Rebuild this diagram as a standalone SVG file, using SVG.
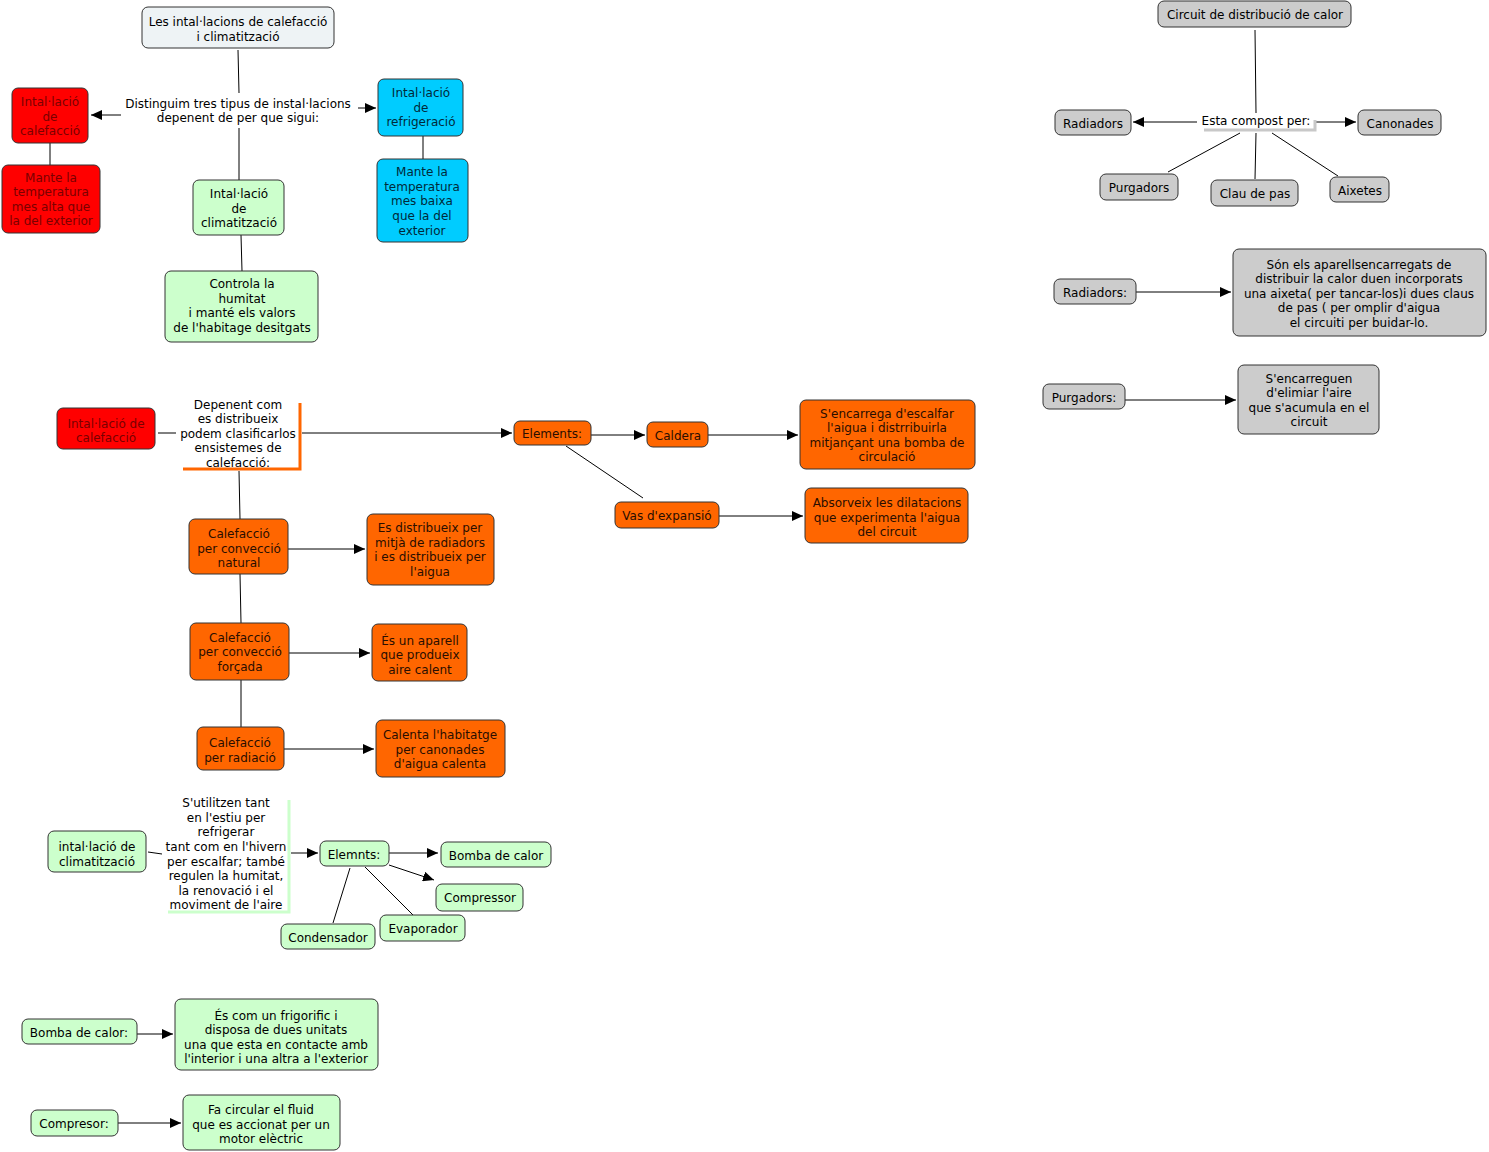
<svg xmlns="http://www.w3.org/2000/svg" width="1489" height="1152" viewBox="0 0 1489 1152">
<defs>
<marker id="ah" markerUnits="userSpaceOnUse" markerWidth="12" markerHeight="10" refX="11" refY="5" orient="auto">
<path d="M0,0 L11,5 L0,10 Z" fill="#000"/>
</marker>
<style>
text{font-family:"DejaVu Sans",Verdana,sans-serif;font-size:12px;text-anchor:middle;fill:#000;transform:translate(0px,1px)}
rect{stroke:#333;stroke-width:1;rx:6;ry:6}
.w{fill:#eef3f5}
.r{fill:#ff0000}
.rt{fill:#7a0000}
.b{fill:#00ccff}
.bt{fill:#002a3a}
.g{fill:#ccffcc}
.gr{fill:#cccccc}
.o{fill:#ff6600}
.ot{fill:#2a0e00}
.c line,.c path{stroke:#000;stroke-width:1;fill:none}
.a{marker-end:url(#ah)}
</style>
</defs>
<rect x="0" y="0" width="1489" height="1152" style="fill:#fff;stroke:none"/>

<g class="c" id="connectors">
<line x1="238" y1="50" x2="239" y2="93"/>
<line class="a" x1="121" y1="115" x2="91" y2="115"/>
<line class="a" x1="358" y1="108" x2="376" y2="108"/>
<line x1="239" y1="128" x2="239" y2="180"/>
<line x1="50" y1="143" x2="50" y2="165"/>
<line x1="423" y1="136" x2="423" y2="159"/>
<line x1="241" y1="235" x2="242" y2="271"/>

<line x1="1255" y1="30" x2="1256" y2="113"/>
<line class="a" x1="1197" y1="122" x2="1133" y2="122"/>
<line class="a" x1="1316" y1="122" x2="1356" y2="122"/>
<line x1="1240" y1="133" x2="1168" y2="172"/>
<line x1="1256" y1="133" x2="1255" y2="179"/>
<line x1="1272" y1="133" x2="1338" y2="176"/>
<line class="a" x1="1136" y1="292" x2="1231" y2="292"/>
<line class="a" x1="1125" y1="400" x2="1236" y2="400"/>

<line x1="158" y1="433" x2="176" y2="433"/>
<line class="a" x1="302" y1="433" x2="512" y2="433"/>
<line x1="239" y1="471" x2="240" y2="519"/>
<line class="a" x1="591" y1="435" x2="645" y2="435"/>
<line x1="566" y1="446" x2="643" y2="498"/>
<line class="a" x1="708" y1="435" x2="798" y2="435"/>
<line class="a" x1="719" y1="516" x2="803" y2="516"/>
<line class="a" x1="288" y1="549" x2="365" y2="549"/>
<line x1="240" y1="574" x2="241" y2="623"/>
<line class="a" x1="289" y1="653" x2="370" y2="653"/>
<line x1="241" y1="680" x2="241" y2="727"/>
<line class="a" x1="284" y1="749" x2="374" y2="749"/>

<line x1="148" y1="852" x2="162" y2="854"/>
<line class="a" x1="291" y1="853" x2="318" y2="853"/>
<line class="a" x1="389" y1="853" x2="438" y2="853"/>
<line class="a" x1="389" y1="865" x2="434" y2="880"/>
<line x1="350" y1="868" x2="333" y2="923"/>
<line x1="365" y1="867" x2="413" y2="915"/>
<line class="a" x1="137" y1="1034" x2="173" y2="1034"/>
<line class="a" x1="118" y1="1123" x2="181" y2="1123"/>
</g>

<g id="n-title"><rect class="w" x="142" y="7" width="192" height="41"/>
<text x="238" y="25">Les intal·lacions de calefacció</text><text x="238" y="40">i climatització</text></g>

<g id="n-distinguim"><rect x="122" y="94" width="234" height="33" style="fill:#fff;stroke:none"/>
<text x="238" y="107">Distinguim tres tipus de instal·lacions</text><text x="238" y="121">depenent de per que sigui:</text></g>

<g id="n-calef1"><rect class="r" x="12" y="88" width="76" height="55"/>
<text class="rt" x="50" y="105">Intal·lació</text><text class="rt" x="50" y="120">de</text><text class="rt" x="50" y="134">calefacció</text></g>

<g id="n-calef1d"><rect class="r" x="2" y="165" width="98" height="68"/>
<text class="rt" x="51" y="181">Mante la</text><text class="rt" x="51" y="195">temperatura</text><text class="rt" x="51" y="210">mes alta que</text><text class="rt" x="51" y="224">la del exterior</text></g>

<g id="n-refrig"><rect class="b" x="378" y="79" width="85" height="57"/>
<text class="bt" x="421" y="96">Intal·lació</text><text class="bt" x="421" y="111">de</text><text class="bt" x="421" y="125">refrigeració</text></g>

<g id="n-refrigd"><rect class="b" x="377" y="159" width="91" height="83"/>
<text class="bt" x="422" y="175">Mante la</text><text class="bt" x="422" y="190">temperatura</text><text class="bt" x="422" y="204">mes baixa</text><text class="bt" x="422" y="219">que la del</text><text class="bt" x="422" y="234">exterior</text></g>

<g id="n-clim"><rect class="g" x="193" y="180" width="91" height="55"/>
<text x="239" y="197">Intal·lació</text><text x="239" y="212">de</text><text x="239" y="226">climatització</text></g>

<g id="n-climd"><rect class="g" x="165" y="271" width="153" height="71"/>
<text x="242" y="287">Controla la</text><text x="242" y="302">humitat</text><text x="242" y="316">i manté els valors</text><text x="242" y="331">de l'habitage desitgats</text></g>

<g id="n-circuit"><rect class="gr" x="1158" y="1" width="193" height="26"/>
<text x="1255" y="18">Circuit de distribució de calor</text></g>

<g id="n-compost"><path d="M1204,130 H1315 V120" style="stroke:#c8c8c8;stroke-width:3;fill:none"/>
<rect x="1198" y="113" width="115" height="15" style="fill:#fff;stroke:none"/>
<text x="1256" y="124">Esta compost per:</text></g>

<g id="n-radiadors"><rect class="gr" x="1055" y="110" width="76" height="25"/><text x="1093" y="127">Radiadors</text></g>
<g id="n-canonades"><rect class="gr" x="1358" y="110" width="83" height="25"/><text x="1400" y="127">Canonades</text></g>
<g id="n-purgadors"><rect class="gr" x="1100" y="174" width="78" height="26"/><text x="1139" y="191">Purgadors</text></g>
<g id="n-clau"><rect class="gr" x="1211" y="180" width="87" height="26"/><text x="1255" y="197">Clau de pas</text></g>
<g id="n-aixetes"><rect class="gr" x="1330" y="177" width="59" height="25"/><text x="1360" y="194">Aixetes</text></g>

<g id="n-radiadors2"><rect class="gr" x="1054" y="279" width="82" height="25"/><text x="1095" y="296">Radiadors:</text></g>
<g id="n-radiadorsd"><rect class="gr" x="1233" y="249" width="253" height="87"/>
<text x="1359" y="268">Són els aparellsencarregats de</text><text x="1359" y="282">distribuir la calor duen incorporats</text><text x="1359" y="297">una aixeta( per tancar-los)i dues claus</text><text x="1359" y="311">de pas ( per omplir d'aigua</text><text x="1359" y="326">el circuiti per buidar-lo.</text></g>

<g id="n-purgadors2"><rect class="gr" x="1043" y="384" width="82" height="25"/><text x="1084" y="401">Purgadors:</text></g>
<g id="n-purgadorsd"><rect class="gr" x="1238" y="365" width="141" height="69"/>
<text x="1309" y="382">S'encarreguen</text><text x="1309" y="396">d'elimiar l'aire</text><text x="1309" y="411">que s'acumula en el</text><text x="1309" y="425">circuit</text></g>

<g id="n-calef2"><rect class="r" x="57" y="408" width="98" height="41"/>
<text class="rt" x="106" y="427">Intal·lació de</text><text class="rt" x="106" y="441">calefacció</text></g>

<g id="n-depenent"><path d="M183,469 H300 V403" style="stroke:#ff6600;stroke-width:3;fill:none"/>
<text x="238" y="408">Depenent com</text><text x="238" y="422">es distribueix</text><text x="238" y="437">podem clasificarlos</text><text x="238" y="451">ensistemes de</text><text x="238" y="466">calefacció:</text></g>

<g id="n-elements"><rect class="o" x="514" y="421" width="77" height="24"/><text class="ot" x="552" y="437">Elements:</text></g>
<g id="n-caldera"><rect class="o" x="647" y="422" width="61" height="25"/><text class="ot" x="678" y="439">Caldera</text></g>
<g id="n-calderad"><rect class="o" x="800" y="400" width="175" height="69"/>
<text class="ot" x="887" y="417">S'encarrega d'escalfar</text><text class="ot" x="887" y="431">l'aigua i distrribuirla</text><text class="ot" x="887" y="446">mitjançant una bomba de</text><text class="ot" x="887" y="460">circulació</text></g>
<g id="n-vas"><rect class="o" x="615" y="502" width="104" height="26"/><text class="ot" x="667" y="519">Vas d'expansió</text></g>
<g id="n-vasd"><rect class="o" x="805" y="488" width="163" height="55"/>
<text class="ot" x="887" y="506">Absorveix les dilatacions</text><text class="ot" x="887" y="521">que experimenta l'aigua</text><text class="ot" x="887" y="535">del circuit</text></g>

<g id="n-natural"><rect class="o" x="189" y="519" width="99" height="55"/>
<text class="ot" x="239" y="537">Calefacció</text><text class="ot" x="239" y="552">per convecció</text><text class="ot" x="239" y="566">natural</text></g>
<g id="n-naturald"><rect class="o" x="367" y="514" width="127" height="71"/>
<text class="ot" x="430" y="531">Es distribueix per</text><text class="ot" x="430" y="546">mitjà de radiadors</text><text class="ot" x="430" y="560">i es distribueix per</text><text class="ot" x="430" y="575">l'aigua</text></g>

<g id="n-forcada"><rect class="o" x="190" y="623" width="99" height="57"/>
<text class="ot" x="240" y="641">Calefacció</text><text class="ot" x="240" y="655">per convecció</text><text class="ot" x="240" y="670">forçada</text></g>
<g id="n-forcadad"><rect class="o" x="372" y="624" width="95" height="57"/>
<text class="ot" x="420" y="644">És un aparell</text><text class="ot" x="420" y="658">que produeix</text><text class="ot" x="420" y="673">aire calent</text></g>

<g id="n-radiacio"><rect class="o" x="197" y="727" width="87" height="43"/>
<text class="ot" x="240" y="746">Calefacció</text><text class="ot" x="240" y="761">per radiació</text></g>
<g id="n-radiaciod"><rect class="o" x="376" y="720" width="129" height="57"/>
<text class="ot" x="440" y="738">Calenta l'habitatge</text><text class="ot" x="440" y="753">per canonades</text><text class="ot" x="440" y="767">d'aigua calenta</text></g>

<g id="n-clim2"><rect class="g" x="48" y="831" width="98" height="41"/>
<text x="97" y="850">intal·lació de</text><text x="97" y="865">climatització</text></g>

<g id="n-utilitzen"><path d="M168,912 H289 V800" style="stroke:#ccffcc;stroke-width:3;fill:none"/>
<text x="226" y="806">S'utilitzen tant</text><text x="226" y="821">en l'estiu per</text><text x="226" y="835">refrigerar</text><text x="226" y="850">tant com en l'hivern</text><text x="226" y="865">per escalfar; també</text><text x="226" y="879">regulen la humitat,</text><text x="226" y="894">la renovació i el</text><text x="226" y="908">moviment de l'aire</text></g>

<g id="n-elemnts"><rect class="g" x="320" y="841" width="69" height="25"/><text x="354" y="858">Elemnts:</text></g>
<g id="n-bomba"><rect class="g" x="441" y="842" width="110" height="25"/><text x="496" y="859">Bomba de calor</text></g>
<g id="n-compressor"><rect class="g" x="436" y="884" width="87" height="27"/><text x="480" y="901">Compressor</text></g>
<g id="n-evaporador"><rect class="g" x="380" y="915" width="85" height="26"/><text x="423" y="932">Evaporador</text></g>
<g id="n-condensador"><rect class="g" x="281" y="924" width="94" height="25"/><text x="328" y="941">Condensador</text></g>

<g id="n-bomba2"><rect class="g" x="22" y="1019" width="115" height="25"/><text x="79" y="1036">Bomba de calor:</text></g>
<g id="n-bombad"><rect class="g" x="175" y="999" width="203" height="71"/>
<text x="276" y="1019">És com un frigorific i</text><text x="276" y="1033">disposa de dues unitats</text><text x="276" y="1048">una que esta en contacte amb</text><text x="276" y="1062">l'interior i una altra a l'exterior</text></g>

<g id="n-compresor"><rect class="g" x="31" y="1110" width="87" height="26"/><text x="74" y="1127">Compresor:</text></g>
<g id="n-compresord"><rect class="g" x="183" y="1095" width="157" height="55"/>
<text x="261" y="1113">Fa circular el fluid</text><text x="261" y="1128">que es accionat per un</text><text x="261" y="1142">motor elèctric</text></g>
</svg>
